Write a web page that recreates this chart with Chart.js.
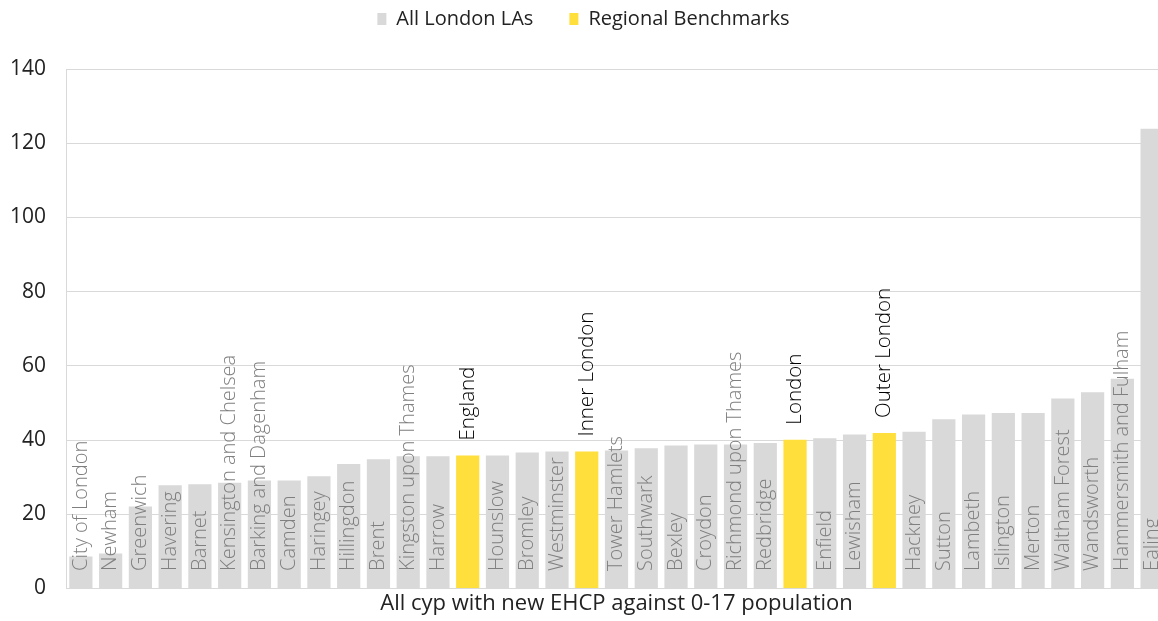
<!DOCTYPE html>
<html>
<head>
<meta charset="utf-8">
<script src="https://cdn.jsdelivr.net/npm/chart.js@4"></script>
<style>
  html, body { margin: 0; padding: 0; background: #fff; overflow: hidden; }
  #wrap { width: 1168px; height: 621px; }
</style>
</head>
<body>
<div id="wrap"><canvas id="ehcpChart"></canvas></div>
<script>
// areas, sorted as in the chart
var areas = ["City of London", "Newham", "Greenwich", "Havering", "Barnet",
  "Kensington and Chelsea", "Barking and Dagenham", "Camden", "Haringey", "Hillingdon",
  "Brent", "Kingston upon Thames", "Harrow", "England", "Hounslow", "Bromley",
  "Westminster", "Inner London", "Tower Hamlets", "Southwark", "Bexley", "Croydon",
  "Richmond upon Thames", "Redbridge", "London", "Enfield", "Lewisham", "Outer London",
  "Hackney", "Sutton", "Lambeth", "Islington", "Merton", "Waltham Forest",
  "Wandsworth", "Hammersmith and Fulham", "Ealing"];

var values = [8.6, 9.4, 22.1, 27.8, 28.1, 28.5, 29.1, 29.1, 30.2, 33.5,
  34.8, 35.6, 35.6, 35.8, 35.8, 36.6, 36.9, 36.9, 37.2, 37.8, 38.5, 38.8,
  38.8, 39.2, 40.1, 40.5, 41.5, 41.9, 42.2, 45.6, 46.9, 47.3, 47.3, 51.2,
  52.9, 56.5, 123.9];

var benchmarks = ["England", "Inner London", "London", "Outer London"];
var yTicks = [0, 20, 40, 60, 80, 100, 120, 140];

var laData = values.map(function(v, i){ return benchmarks.indexOf(areas[i]) < 0 ? v : null; });
var benchData = values.map(function(v, i){ return benchmarks.indexOf(areas[i]) >= 0 ? v : null; });

var FONT = "'Open Sans', 'Noto Sans', sans-serif";

// names written up the bars
var barNames = {
  id: 'barNames',
  afterDatasetsDraw: function(chart){
    var ctx = chart.ctx;
    ctx.save();
    ctx.textBaseline = 'middle';
    ctx.textAlign = 'left';
    chart.data.datasets.forEach(function(ds, di){
      var meta = chart.getDatasetMeta(di);
      meta.data.forEach(function(bar, i){
        if (ds.data[i] === null) return;
        ctx.save();
        ctx.translate(bar.x, 0);
        ctx.rotate(-Math.PI / 2);
        if (di === 0) {
          ctx.font = "300 20px " + FONT;
          ctx.fillStyle = '#7f7f7f';
          ctx.fillText(areas[i], -(bar.base - 17), 0);
        } else {
          ctx.font = "300 20.5px " + FONT;
          ctx.fillStyle = '#000';
          ctx.fillText(areas[i], -(bar.y - 15), 0);
        }
        ctx.restore();
      });
    });
    ctx.restore();
  }
};

// keep the legend high and leave room under it
var legendRoom = {
  id: 'legendRoom',
  beforeInit: function(chart){
    var legend = chart.legend;
    var fit = legend.fit;
    legend.fit = function(){
      fit.call(this);
      this.height = 96;
    };
  }
};

new Chart(document.getElementById('ehcpChart'), {
  type: 'bar',
  data: {
    labels: areas,
    datasets: [{
      label: 'All London LAs',
      data: laData,
      backgroundColor: '#d9d9d9',
      grouped: false,
      categoryPercentage: 1,
      barPercentage: 0.78
    }, {
      label: 'Regional Benchmarks',
      data: benchData,
      backgroundColor: '#ffdf3c',
      grouped: false,
      categoryPercentage: 1,
      barPercentage: 0.78
    }]
  },
  plugins: [barNames, legendRoom],
  options: {
    responsive: true,
    maintainAspectRatio: false,
    animation: false,
    layout: { padding: { left: 0, right: 1, top: -27, bottom: 0 } },
    plugins: {
      tooltip: { enabled: false },
      legend: {
        position: 'top',
        labels: {
          font: { family: FONT, size: 20 },
          color: '#222',
          boxWidth: 9,
          boxHeight: 12,
          padding: 36
        }
      }
    },
    scales: {
      x: {
        grid: { display: false, drawTicks: false },
        border: { color: '#d9d9d9' },
        ticks: { display: false },
        title: {
          display: true,
          text: 'All cyp with new EHCP against 0-17 population',
          font: { family: FONT, size: 22 },
          color: '#222',
          padding: { top: 2, bottom: 0 }
        }
      },
      y: {
        min: 0,
        max: 140,
        afterBuildTicks: function(scale){
          scale.ticks = yTicks.map(function(v){ return { value: v }; });
        },
        afterFit: function(scale){ scale.width = 66; },
        grid: { color: '#d9d9d9', drawTicks: false },
        border: { color: '#d9d9d9' },
        ticks: {
          font: { family: FONT, size: 21 },
          color: '#222',
          padding: 20
        }
      }
    }
  }
});
</script>
</body>
</html>
